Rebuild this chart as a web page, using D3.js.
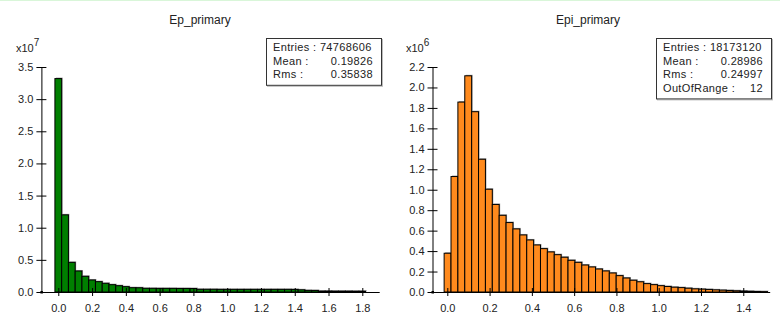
<!DOCTYPE html>
<html>
<head>
<meta charset="utf-8">
<script src="https://cdn.jsdelivr.net/npm/d3@7"></script>
<style>
  body { margin: 0; background: #fff; }
  svg { display: block; font-family: "Liberation Sans", Arial, sans-serif; }
</style>
</head>
<body>
<svg id="chart" width="784" height="334"></svg>
<script>
// Ep_primary : 46 bins of 0.04 from -0.02 (counts in units of 1e7)
var epLow = -0.02, epWidth = 0.04;
var epCounts = [
  3.32, 1.20, 0.461, 0.327, 0.244, 0.187, 0.161, 0.135, 0.114, 0.098,
  0.083, 0.067, 0.066, 0.057, 0.057, 0.056, 0.056, 0.056, 0.055, 0.055,
  0.054, 0.042, 0.042, 0.042, 0.041, 0.041, 0.041, 0.041, 0.041, 0.041,
  0.041, 0.041, 0.041, 0.041, 0.041, 0.040, 0.034, 0.025, 0.024, 0.014,
  0.014, 0.013, 0.013, 0.013, 0.012, 0.012
];
var epStats = [['Mean :', '0.19826'], ['Rms :', '0.35838']];

// Epi_primary : 47 bins from -0.015 to 1.515 (counts in units of 1e6)
var epiLow = -0.015, epiWidth = 1.53 / 47;
var epiCounts = [
  0.379, 1.129, 1.857, 2.114, 1.763, 1.298, 1.005, 0.856, 0.750, 0.679,
  0.617, 0.558, 0.509, 0.460, 0.424, 0.392, 0.365, 0.340, 0.310, 0.290,
  0.264, 0.245, 0.225, 0.206, 0.186, 0.160, 0.137, 0.115, 0.100, 0.082,
  0.072, 0.062, 0.054, 0.047, 0.043, 0.037, 0.031, 0.028, 0.025, 0.021,
  0.018, 0.015, 0.012, 0.009, 0.007, 0.005, 0.004
];
var epiStats = [['Mean :', '0.28986'], ['Rms :', '0.24997'], ['OutOfRange :', '12']];

var xTicksEp = d3.range(0, 1.81, 0.2);
var yTicksEp = d3.range(0, 3.51, 0.5);
var xTicksEpi = d3.range(0, 1.41, 0.2);
var yTicksEpi = d3.range(0, 2.21, 0.2);

var svg = d3.select('#chart');

function drawPanel(o){
  var g = svg.append('g');

  // faint top border
  g.append('line')
    .attr('x1', o.left).attr('x2', o.left + 390)
    .attr('y1', 0.5).attr('y2', 0.5)
    .attr('stroke', '#d9f6d9');

  var x = d3.scaleLinear().domain(o.xDomain).range(o.xRange);
  var y = d3.scaleLinear().domain(o.yDomain).range([292, 67]);

  var bins = o.counts.map(function(c, i){
    return { x0: o.low + i * o.width, x1: o.low + (i + 1) * o.width, v: c };
  });

  // bar shadow
  g.append('g').selectAll('rect').data(bins).enter().append('rect')
    .attr('x', function(d){ return x(d.x0) + 1; })
    .attr('y', function(d){ return y(d.v) - 1; })
    .attr('width', function(d){ return x(d.x1) - x(d.x0); })
    .attr('height', function(d){ return y(0) - y(d.v); })
    .attr('fill', '#a0a0a0');

  g.append('g').selectAll('rect').data(bins).enter().append('rect')
    .attr('x', function(d){ return x(d.x0); })
    .attr('y', function(d){ return y(d.v); })
    .attr('width', function(d){ return x(d.x1) - x(d.x0); })
    .attr('height', function(d){ return y(0) - y(d.v); })
    .attr('fill', o.color)
    .attr('stroke', '#000')
    .attr('stroke-width', 1);

  // axes
  var xa = g.append('g')
    .attr('transform', 'translate(0,' + y(0) + ')')
    .call(d3.axisBottom(x).tickValues(o.xTicks).tickFormat(d3.format('.1f'))
      .tickSizeInner(4).tickSizeOuter(0).tickPadding(8));
  xa.selectAll('.tick line').attr('y1', -4);

  var ya = g.append('g')
    .attr('transform', 'translate(' + x(o.xDomain[0]) + ',0)')
    .call(d3.axisLeft(y).tickValues(o.yTicks).tickFormat(d3.format('.1f'))
      .tickSizeInner(5).tickSizeOuter(0).tickPadding(3));
  ya.selectAll('.tick line').attr('x1', 5);

  [xa, ya].forEach(function(a){
    a.select('.domain').attr('stroke', '#000');
    a.selectAll('.tick line').attr('stroke', '#000');
    a.selectAll('text').attr('font-size', 11).attr('fill', '#222')
      .attr('font-family', '"Liberation Sans", Arial, sans-serif');
  });

  g.append('rect')
    .attr('x', x(o.xDomain[0]) - 1).attr('y', y(0) - 1)
    .attr('width', 2.5).attr('height', 2.5).attr('fill', '#000');

  // exponent label
  var ex = g.append('text')
    .attr('x', o.left + 16).attr('y', 52)
    .attr('font-size', 11).attr('fill', '#222')
    .text('x10');
  ex.append('tspan').attr('dy', -6).attr('font-size', 10).text(o.exp);

  // title
  g.append('text')
    .attr('x', o.left + o.titleX).attr('y', 24)
    .attr('text-anchor', 'middle')
    .attr('font-size', 12).attr('fill', '#222')
    .text(o.title);

  // stats box
  var rows = [['Entries : ' + o.entries, '']].concat(o.stats);
  var bx = o.left + 266, by = 38, bw = 115, bh = 6 + rows.length * 13.6;
  g.append('rect')
    .attr('x', bx + 1.5).attr('y', by + 1.5).attr('width', bw).attr('height', bh)
    .attr('fill', 'none').attr('stroke', '#bbb');
  g.append('rect')
    .attr('x', bx + 0.5).attr('y', by + 0.5).attr('width', bw).attr('height', bh)
    .attr('fill', '#fff').attr('stroke', '#333');
  rows.forEach(function(r, i){
    var ty = by + 13 + i * 13.6;
    g.append('text')
      .attr('x', bx + 7).attr('y', ty)
      .attr('font-size', 11).attr('letter-spacing', 0.35).attr('fill', '#222')
      .text(r[0]);
    if(r[1]){
      g.append('text')
        .attr('x', bx + 107).attr('y', ty)
        .attr('text-anchor', 'end')
        .attr('font-size', 11).attr('letter-spacing', 0.35).attr('fill', '#222')
        .text(r[1]);
    }
  });
}

drawPanel({
  left: 0, title: 'Ep_primary', titleX: 200, exp: '7',
  xDomain: [-0.1, 1.9], xRange: [41.4, 379.2], yDomain: [0, 3.5],
  xTicks: xTicksEp, yTicks: yTicksEp,
  low: epLow, width: epWidth, counts: epCounts,
  color: '#007f00', entries: '74768606', stats: epStats
});

drawPanel({
  left: 390, title: 'Epi_primary', titleX: 198, exp: '6',
  xDomain: [-0.07, 1.525], xRange: [432.5, 769.7], yDomain: [0, 2.2],
  xTicks: xTicksEpi, yTicks: yTicksEpi,
  low: epiLow, width: epiWidth, counts: epiCounts,
  color: '#ff8a1d', entries: '18173120', stats: epiStats
});
</script>
</body>
</html>
